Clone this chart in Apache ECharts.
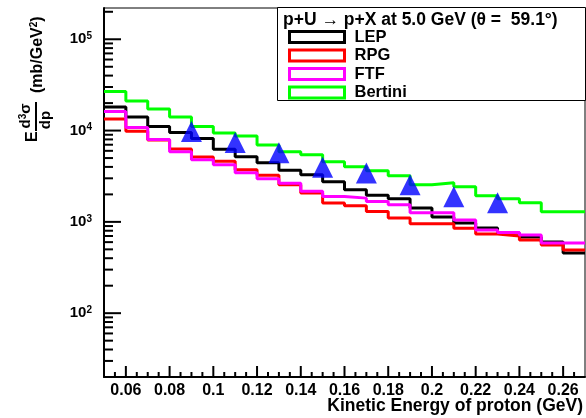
<!DOCTYPE html>
<html>
<head>
<meta charset="utf-8">
<script src="https://cdn.jsdelivr.net/npm/echarts@6/dist/echarts.min.js"></script>
<style>
html, body { margin: 0; padding: 0; background: #fff; }
#main { width: 586px; height: 418px; background: #fff; }
</style>
</head>
<body>
<div id="main"></div>
<script>
// histogram bin edges (GeV)
var binEdges = [0.05, 0.06, 0.07, 0.08, 0.09, 0.10, 0.11, 0.12, 0.13, 0.14, 0.15, 0.16,
	0.17, 0.18, 0.19, 0.20, 0.21, 0.22, 0.23, 0.24, 0.25, 0.26, 0.27];
// bin contents, E d3sigma/dp3 (mb/GeV2)
var lep = [18100, 14100, 11100, 9510, 8170, 6260, 5180, 4450, 3680, 3280, 2750,
	2250, 1960, 1790, 1420, 1130, 975, 859, 757, 684, 603, 456];
var rpg = [13400, 9820, 7860, 6290, 5140, 4600, 3730, 3240, 2550, 2070, 1610,
	1500, 1300, 1100, 951, 951, 853, 738, 702, 634, 559, 492];
var ftf = [16200, 10800, 7960, 5880, 4800, 4230, 3460, 2970, 2650, 2160, 1900,
	1820, 1670, 1540, 1260, 1260, 1050, 817, 763, 720, 588, 588];
var bertini = [26800, 21100, 17200, 14100, 11100, 9390, 8700, 6930, 5880, 5450, 4560,
	4020, 3630, 3200, 2550, 2680, 2420, 1930, 1790, 1620, 1290, 1290];
// measured points
var dataX = [0.09, 0.11, 0.13, 0.15, 0.17, 0.19, 0.21, 0.23];
var dataY = [9750, 7390, 5730, 3970, 3430, 2550, 1880, 1620];
// ticks
var xTicks = [0.06, 0.08, 0.1, 0.12, 0.14, 0.16, 0.18, 0.2, 0.22, 0.24, 0.26];
var xMinorTicks = [0.055, 0.065, 0.07, 0.075, 0.085, 0.09, 0.095,
	0.105, 0.11, 0.115, 0.125, 0.13, 0.135, 0.145, 0.15, 0.155,
	0.165, 0.17, 0.175, 0.185, 0.19, 0.195, 0.205, 0.21, 0.215,
	0.225, 0.23, 0.235, 0.245, 0.25, 0.255, 0.265];
var yTicks = [100, 1000, 10000, 100000];
var yMinorTicks = [20, 30, 40, 50, 60, 70, 80, 90, 200, 300, 400, 500, 600, 700, 800, 900,
	2000, 3000, 4000, 5000, 6000, 7000, 8000, 9000, 20000, 30000, 40000, 50000,
	60000, 70000, 80000, 90000, 200000];

var names = ['LEP', 'RPG', 'FTF', 'Bertini'];
var colors = ['#000000', '#ff0000', '#ff00ff', '#00ff00'];

var X_MIN = 0.05, X_MAX = 0.27, Y_MIN = 20, Y_MAX = 220000;
var FONT = 'Liberation Sans, Arial, Helvetica, sans-serif';

function steps(vals) {
	var pts = [];
	for (var i = 0; i < vals.length; i++) pts.push([binEdges[i], vals[i]]);
	pts.push([binEdges[vals.length], vals[vals.length - 1]]);
	return pts;
}

function histo(idx, vals) {
	return {
		name: names[idx],
		type: 'line',
		step: 'end',
		symbol: 'none',
		color: colors[idx],
		lineStyle: { color: colors[idx], width: 3 },
		data: steps(vals)
	};
}

var points = dataX.map(function (x, i) { return [x, dataY[i]]; });

// legend box and y axis title, E d3sigma/dp3 (mb/GeV2)
function baseGraphic() {
	return [{
		type: 'rect', z: 8,
		shape: { x: 277.5, y: 7.5, width: 308, height: 93 },
		style: { fill: '#fff', stroke: '#000', lineWidth: 1 }
	}, {
		type: 'group', x: 36, y: 142, rotation: Math.PI / 2,
		children: [{
			type: 'text', x: 0, y: -3,
			style: { text: 'E', font: 'bold 16px ' + FONT, fill: '#000', verticalAlign: 'middle' }
		}, {
			type: 'line', shape: { x1: 11, y1: 0, x2: 40, y2: 0 },
			style: { stroke: '#000', lineWidth: 2 }
		}, {
			type: 'text', x: 26, y: -2,
			style: {
				text: '{n|d}{s|3}{n|\u03c3}', align: 'center', verticalAlign: 'bottom', fill: '#000',
				rich: {
					n: { font: 'bold 15px ' + FONT, fill: '#000', lineHeight: 16 },
					s: { font: 'bold 10px ' + FONT, fill: '#000', verticalAlign: 'top', lineHeight: 10 }
				}
			}
		}, {
			type: 'text', x: 22, y: 2,
			style: { text: 'dp', font: 'bold 15px ' + FONT, fill: '#000', align: 'center', verticalAlign: 'top' }
		}, {
			type: 'text', x: 49, y: 2,
			style: {
				text: '{n|(mb/GeV}{s|2}{n|)}', verticalAlign: 'middle', fill: '#000',
				rich: {
					n: { font: 'bold 16px ' + FONT, fill: '#000', lineHeight: 18 },
					s: { font: 'bold 10px ' + FONT, fill: '#000', verticalAlign: 'top', lineHeight: 10 }
				}
			}
		}]
	}];
}

var chart = echarts.init(document.getElementById('main'));
chart.setOption({
	animation: false,
	title: {
		text: 'p+U \u2192 p+X at 5.0 GeV (\u03b8 =  59.1\u00b0)',
		left: 283, top: 11, padding: 0, z: 10,
		textStyle: { fontFamily: FONT, fontWeight: 'bold', fontSize: 17.5, color: '#000' }
	},
	legend: {
		data: names.map(function (n, i) {
			return { name: n, itemStyle: { color: 'rgba(0,0,0,0)', borderColor: colors[i], borderWidth: 3 } };
		}),
		orient: 'vertical', left: 288, top: 28, padding: 0, itemGap: 0.5, z: 10,
		itemWidth: 55, itemHeight: 11, icon: 'rect',
		selectedMode: false,
		textStyle: { fontFamily: FONT, fontWeight: 'bold', fontSize: 16.5, color: '#000',
			lineHeight: 18, padding: [0, 0, 0, 5] }
	},
	grid: {
		left: 104, right: 1, top: 8, bottom: 41,
		show: true, borderColor: '#000', borderWidth: 1,
		containLabel: false, outerBoundsMode: 'none'
	},
	xAxis: {
		type: 'value', min: X_MIN, max: X_MAX, position: 'bottom',
		name: 'Kinetic Energy of proton (GeV)', nameLocation: 'end', nameGap: -2,
		nameMoveOverlap: false,
		nameTextStyle: { fontFamily: FONT, fontWeight: 'bold', fontSize: 17.5, color: '#000',
			align: 'right', verticalAlign: 'top', padding: [20, 0, 0, 0] },
		axisLine: { show: true, onZero: false, lineStyle: { color: '#000', width: 2 } },
		axisTick: { show: false },
		axisLabel: { customValues: xTicks, margin: 6, fontFamily: FONT, fontWeight: 'bold',
			fontSize: 16, color: '#000',
			formatter: function (v) { return String(+v.toFixed(3)); } },
		splitLine: { show: false }
	},
	yAxis: {
		type: 'log', min: Y_MIN, max: Y_MAX, position: 'left',
		axisLine: { show: true, onZero: false, lineStyle: { color: '#000', width: 2 } },
		axisTick: { show: false },
		axisLabel: {
			customValues: yTicks, margin: 12,
			formatter: function (v) {
				return '{b|10}{s|' + Math.round(Math.log(v) / Math.LN10) + '}';
			},
			rich: {
				b: { fontFamily: FONT, fontWeight: 'bold', fontSize: 15, color: '#000', lineHeight: 16 },
				s: { fontFamily: FONT, fontWeight: 'bold', fontSize: 10, color: '#000', verticalAlign: 'top', lineHeight: 10 }
			}
		},
		splitLine: { show: false }
	},
	graphic: baseGraphic(),
	series: [
		histo(0, lep),
		histo(1, rpg),
		histo(2, ftf),
		histo(3, bertini),
		{
			name: 'data',
			type: 'scatter',
			symbol: 'triangle',
			symbolSize: [21, 21],
			itemStyle: { color: '#0000ff' },
			data: points,
			z: 5
		}
	]
});

// frame ticks (ROOT style, inside), placed through the axes' own scales
var tickLines = [];
function addTick(x, y, dx, dy) {
	var p = chart.convertToPixel({ gridIndex: 0 }, [x, y]);
	if (!p || !isFinite(p[0]) || !isFinite(p[1])) return;
	tickLines.push({
		type: 'line', zlevel: 1, z: 20,
		shape: { x1: p[0], y1: p[1], x2: p[0] + dx, y2: p[1] - dy },
		style: { stroke: '#000', lineWidth: 2 }
	});
}
xTicks.forEach(function (v) { addTick(v, Y_MIN, 0, 11); });
xMinorTicks.forEach(function (v) { addTick(v, Y_MIN, 0, 5); });
yTicks.forEach(function (v) { addTick(X_MIN, v, 17, 0); });
yMinorTicks.forEach(function (v) { addTick(X_MIN, v, 9, 0); });

chart.setOption({ graphic: baseGraphic().concat(tickLines) });
</script>
</body>
</html>
